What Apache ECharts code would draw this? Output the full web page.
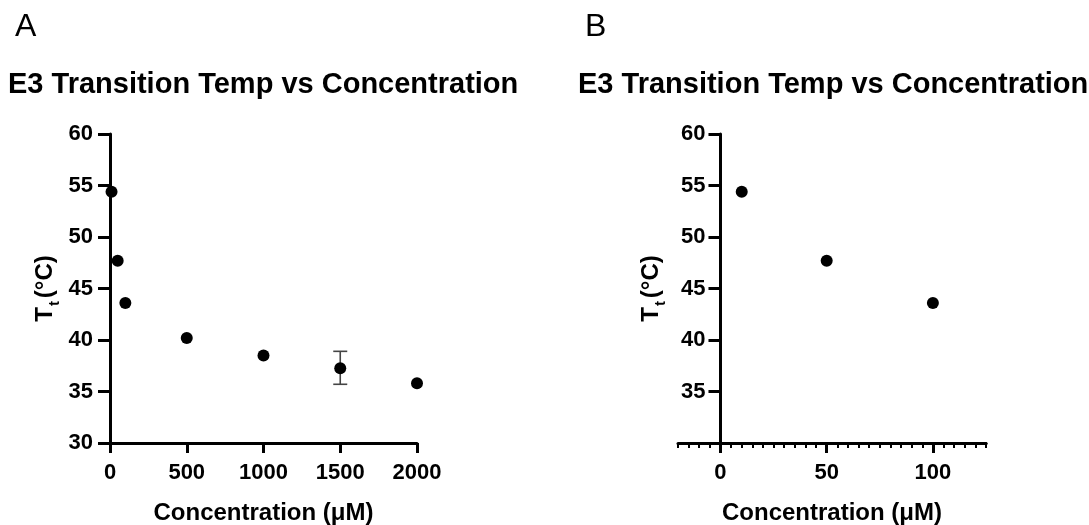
<!DOCTYPE html>
<html><head><meta charset="utf-8">
<script src="https://cdn.jsdelivr.net/npm/echarts@6/dist/echarts.min.js"></script>
<style>html,body{margin:0;padding:0;background:#fff}
#a{position:absolute;left:0;top:0;width:545px;height:525px}
#b{position:absolute;left:545px;top:0;width:544px;height:525px}</style>
</head><body><div id="a"></div><div id="b"></div>
<script>
const panelLetters = ['A', 'B'];
const chartTitle = 'E3 Transition Temp vs Concentration';
const xTitle = 'Concentration (\u03bcM)';
const concA = [10, 50, 100, 500, 1000, 1500, 2000];
const ttA = [54.4, 47.7, 43.6, 40.2, 38.5, 37.25, 35.8];
const errConcA = [1500];
const errLowA = [35.7];
const errHighA = [38.9];
const concB = [10, 50, 100];
const ttB = [54.4, 47.7, 43.6];
const xRangeB = [-20, 125];
const majorIntervalB = 50;

const FONT = '"Liberation Sans", Arial, Helvetica, sans-serif';

function yNameStyle() {
  return {
    fontFamily: FONT, fontWeight: 'bold', color: '#000',
    rich: {
      a: {fontFamily: FONT, fontWeight: 'bold', fontSize: 24, color: '#000', lineHeight: 34, verticalAlign: 'middle'},
      s: {fontFamily: FONT, fontWeight: 'bold', fontSize: 15, color: '#000', lineHeight: 34, verticalAlign: 'bottom', padding: [0, 3, 0, 1]}
    }
  };
}
const yName = '{a|T}{s|t}{a|(\u00b0C)}';
function line(onZero) { return {show: true, onZero: onZero, lineStyle: {color: '#000', width: 3}}; }
function tick(len, w) { return {show: true, inside: false, length: len, lineStyle: {color: '#000', width: w}}; }
function lbl(margin, extra) {
  return Object.assign({show: true, margin: margin, fontFamily: FONT, fontWeight: 'bold', fontSize: 22, color: '#000',
    formatter: function (v) { return String(v); }}, extra || {});
}
function xName() { return {fontFamily: FONT, fontWeight: 'bold', fontSize: 24, color: '#000'}; }
function titles(letter, dx) {
  return [
    {text: letter, left: 15 + dx, top: 11, padding: 0, textStyle: {fontFamily: FONT, fontWeight: 'normal', fontSize: 32, color: '#000'}},
    {text: chartTitle, left: 8 + dx, top: 70, padding: 0, textStyle: {fontFamily: FONT, fontWeight: 'bold', fontSize: 29, color: '#000'}}
  ];
}

// Panel A
const chartA = echarts.init(document.getElementById('a'));
chartA.setOption({
  animation: false,
  title: titles(panelLetters[0], 0),
  grid: {left: 110, width: 307, top: 134, height: 309, outerBoundsMode: 'none', containLabel: false},
  xAxis: {type: 'value', min: 0, max: 2000, interval: 500,
    axisLine: line(false), axisTick: tick(10, 3), axisLabel: lbl(19), splitLine: {show: false},
    name: xTitle, nameLocation: 'middle', nameGap: 58, nameMoveOverlap: false, nameTextStyle: xName()},
  yAxis: {type: 'value', min: 30, max: 60, interval: 5,
    axisLine: line(false), axisTick: tick(12, 3), axisLabel: lbl(17), splitLine: {show: false},
    name: yName, nameLocation: 'middle', nameGap: 48, nameMoveOverlap: false, nameRotate: 90, nameTextStyle: yNameStyle()},
  series: [
    {type: 'custom', data: errConcA.map((x, i) => [x, errLowA[i], errHighA[i]]), z: 1,
     renderItem: function (params, api) {
       const x = api.value(0);
       const top = api.coord([x, api.value(2)]);
       const bot = api.coord([x, api.value(1)]);
       const w = 7;
       const st = {stroke: '#444', lineWidth: 1.6};
       return {type: 'group', children: [
         {type: 'line', shape: {x1: top[0], y1: top[1], x2: bot[0], y2: bot[1]}, style: st},
         {type: 'line', shape: {x1: top[0] - w, y1: top[1], x2: top[0] + w, y2: top[1]}, style: st},
         {type: 'line', shape: {x1: bot[0] - w, y1: bot[1], x2: bot[0] + w, y2: bot[1]}, style: st}
       ]};
     }},
    {type: 'scatter', z: 3, clip: false, data: concA.map((x, i) => [x, ttA[i]]),
     symbol: 'circle', symbolSize: 12, itemStyle: {color: '#000', opacity: 1}}
  ]
});

// Panel B: main grid spans [-20,125]; an overlay grid starting at x=0 carries the y axis and major x ticks/labels
const gridBLeft = 133, gridBWidth = 308;
const spanB = xRangeB[1] - xRangeB[0];
const overlayLeft = gridBLeft + (0 - xRangeB[0]) / spanB * gridBWidth;
const overlayWidth = (xRangeB[1] - 0) / spanB * gridBWidth;
const chartB = echarts.init(document.getElementById('b'));
chartB.setOption({
  animation: false,
  title: titles(panelLetters[1], 25),
  grid: [
    {left: gridBLeft, width: gridBWidth, top: 134, height: 309, outerBoundsMode: 'none', containLabel: false},
    {left: overlayLeft, width: overlayWidth, top: 134, height: 309, outerBoundsMode: 'none', containLabel: false}
  ],
  xAxis: [
    {gridIndex: 0, type: 'value', min: xRangeB[0], max: xRangeB[1], interval: 5,
     axisLine: line(false), axisTick: tick(5, 2), axisLabel: {show: false}, splitLine: {show: false},
     name: xTitle, nameLocation: 'middle', nameGap: 58, nameMoveOverlap: false, nameTextStyle: xName()},
    {gridIndex: 1, type: 'value', min: 0, max: xRangeB[1], interval: majorIntervalB,
     axisLine: line(false), axisTick: tick(10, 3), axisLabel: lbl(19, {showMaxLabel: false}), splitLine: {show: false}}
  ],
  yAxis: [
    {gridIndex: 0, type: 'value', min: 30, max: 60, show: false},
    {gridIndex: 1, type: 'value', min: 30, max: 60, interval: 5,
     axisLine: line(false), axisTick: tick(12, 3), axisLabel: lbl(15, {showMinLabel: false}), splitLine: {show: false},
     name: yName, nameLocation: 'middle', nameGap: 52, nameMoveOverlap: false, nameRotate: 90, nameTextStyle: yNameStyle()}
  ],
  series: [
    {type: 'scatter', xAxisIndex: 0, yAxisIndex: 0, z: 3, clip: false, data: concB.map((x, i) => [x, ttB[i]]),
     symbol: 'circle', symbolSize: 12, itemStyle: {color: '#000', opacity: 1}}
  ]
});
</script>
</body></html>
